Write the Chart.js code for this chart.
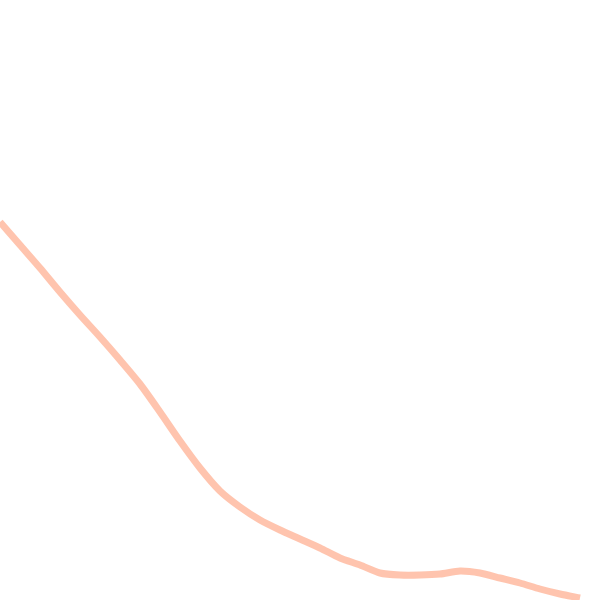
<!DOCTYPE html>
<html>
<head>
<meta charset="utf-8">
<script src="https://cdn.jsdelivr.net/npm/chart.js@4"></script>
<style>
  html, body { margin: 0; padding: 0; background: #fff; }
  #wrap { width: 600px; height: 600px; }
</style>
</head>
<body>
<div id="wrap"><canvas id="lineChart" width="600" height="600"></canvas></div>
<script>
// Posiciones en el eje X (cada 20 unidades)
const posiciones = [0, 20, 40, 60, 80, 100, 120, 140, 160, 180, 200, 220, 240, 260, 280,
                    300, 320, 340, 360, 380, 400, 420, 440, 460, 480, 500, 520, 540, 560, 580];
// Valores de la serie
const valores = [378, 355, 332, 308, 285, 263, 240, 216, 188, 159, 132, 109, 93, 80, 70,
                 61, 52, 42, 35, 27, 25, 25, 26, 29, 27, 22, 17, 11, 6, 2];

const puntos = posiciones.map((x, i) => ({ x: x, y: valores[i] }));

const ctx = document.getElementById('lineChart').getContext('2d');
new Chart(ctx, {
    type: 'line',
    data: {
        datasets: [{
            data: puntos,
            borderColor: 'rgba(255, 165, 130, 0.65)',
            borderWidth: 7,
            pointRadius: 0,
            tension: 0.25,
            fill: false,
            clip: false
        }]
    },
    options: {
        responsive: false,
        animation: false,
        layout: { padding: 0 },
        plugins: { legend: { display: false }, tooltip: { enabled: false } },
        scales: {
            x: { type: 'linear', min: 0, max: 600, display: false },
            y: { min: 0, max: 600, display: false }
        }
    }
});
</script>
</body>
</html>
